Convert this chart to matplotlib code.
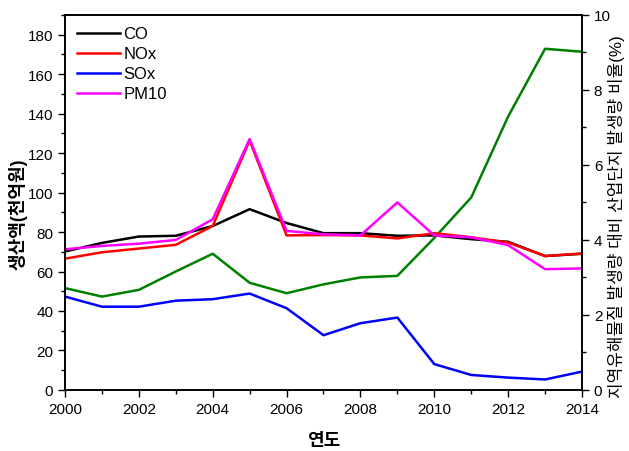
import matplotlib
matplotlib.use('Agg')
from matplotlib import pyplot as plt
from matplotlib.ticker import MultipleLocator

plt.rcParams['font.family'] = ['Liberation Sans', 'Noto Sans CJK KR']

years = list(range(2000, 2015))

# 생산액 (천억원), left axis
production = [51.6, 47.3, 50.7, 60.0, 69.0, 54.3, 49.0, 53.5, 57.0, 57.8,
              77.0, 97.5, 138.5, 172.8, 171.3]

# 비율 (%), right axis
co = [3.69, 3.92, 4.09, 4.11, 4.37, 4.82, 4.45, 4.18, 4.18, 4.11,
      4.12, 4.02, 3.95, 3.57, 3.63]
nox = [3.50, 3.67, 3.77, 3.87, 4.37, 6.65, 4.12, 4.13, 4.12, 4.04,
       4.18, 4.07, 3.93, 3.57, 3.64]
sox = [2.49, 2.22, 2.22, 2.38, 2.42, 2.57, 2.18, 1.46, 1.78, 1.93,
       0.69, 0.40, 0.33, 0.28, 0.49]
pm10 = [3.75, 3.84, 3.90, 4.00, 4.55, 6.69, 4.24, 4.15, 4.12, 5.00,
        4.12, 4.07, 3.86, 3.22, 3.24]

fig = plt.figure(figsize=(6.29, 4.52), dpi=100)
ax = fig.add_axes([0.1033, 0.135, 0.822, 0.83])
ax2 = ax.twinx()

ax.plot(years, production, color='#008000', lw=1.8)

ax2.plot(years, co, color='black', lw=1.8, label='CO')
ax2.plot(years, nox, color='#FF0000', lw=1.8, label='NOx')
ax2.plot(years, sox, color='#0000FF', lw=1.8, label='SOx')
ax2.plot(years, pm10, color='#FF00FF', lw=1.8, label='PM10')

ax.set_xlim(2000, 2014)
ax.set_ylim(0, 190)
ax2.set_ylim(0, 10)

ax.xaxis.set_major_locator(MultipleLocator(2))
ax.xaxis.set_minor_locator(MultipleLocator(1))
ax.yaxis.set_major_locator(MultipleLocator(20))
ax.yaxis.set_minor_locator(MultipleLocator(10))
ax2.yaxis.set_major_locator(MultipleLocator(2))
ax2.yaxis.set_minor_locator(MultipleLocator(1))

for a in (ax, ax2):
    a.tick_params(which='major', direction='out', length=5, width=1, labelsize=11)
    a.tick_params(which='minor', direction='out', length=3, width=1)
    for s in a.spines.values():
        s.set_linewidth(1.2)

ax.set_xlabel('연도', fontsize=13, fontweight='bold', labelpad=12)
ax.set_ylabel('생산액(천억원)', fontsize=13, fontweight='bold')
ax.yaxis.set_label_coords(-0.072, 0.47)
ax2.set_ylabel('지역유해물질 발생량 대비 산업단지 발생량 비율(%)', fontsize=12.2)
ax2.yaxis.set_label_coords(1.05, 0.465)

ax2.legend(loc='upper left', frameon=False, fontsize=12, handlelength=2.6,
           handletextpad=0.2, labelspacing=0.3, borderaxespad=0.3)

fig.savefig('out.png', dpi=100)
